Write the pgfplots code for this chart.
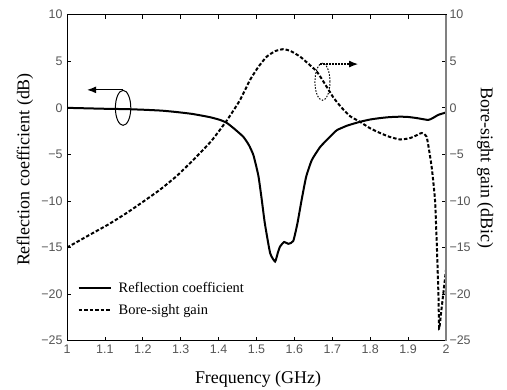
\documentclass[border=0pt]{standalone}
\usepackage{fontspec}
\setmainfont{Liberation Serif}
\setsansfont{Liberation Sans}
\usepackage{pgfplots}
\pgfplotsset{compat=1.18}
\usetikzlibrary{arrows.meta}
\definecolor{ticktext}{HTML}{555555}
\begin{document}
\begin{tikzpicture}
\begin{axis}[
  scale only axis, width=379bp, height=326bp,
  xmin=1, xmax=2, ymin=-25, ymax=10,
  xtick={1,1.1,...,2.01},
  xticklabels={1,1.1,1.2,1.3,1.4,1.5,1.6,1.7,1.8,1.9,2},
  ytick={-25,-20,...,10},
  yticklabels={−25,−20,−15,−10,−5,0,5,10},
  tick align=inside, xtick pos=both, ytick pos=left,
  major tick length=4bp,
  tick style={black, line width=0.7bp},
  axis line style={black, line width=1bp},
  ticklabel style={font=\fontsize{12.5}{12.5}\selectfont\sffamily, text=ticktext},
  yticklabel style={xshift=-1bp},
  xticklabel style={yshift=-1bp},
  xlabel={Frequency (GHz)},
  ylabel={Reflection coefficient (dB)},
  label style={font=\fontsize{18}{18}\selectfont},
  xlabel style={at={(axis description cs:0.504,-0.1195)}, anchor=center},
  ylabel style={at={(axis description cs:-0.111,0.525)}, anchor=center, rotate=0},
  legend image code/.code={\draw[#1] (0bp,0bp) -- (32bp,0bp); \path (37bp,0bp);},
  legend style={draw=none, fill=none, at={(axis description cs:0.025,0.19)}, anchor=north west,
    font=\fontsize{14.5}{14.5}\selectfont, row sep=7bp, inner sep=1bp},
  legend cell align=left,
]
\coordinate (bl) at (rel axis cs:0,0);
\coordinate (tr) at (rel axis cs:1,1);
\addplot[black, line width=2bp, smooth, tension=0.3] coordinates {
(1.00,0.0) (1.05,-0.05) (1.10,-0.1) (1.157,-0.14) (1.20,-0.2) (1.25,-0.3) (1.289,-0.45)
(1.33,-0.65) (1.377,-1.0) (1.404,-1.3) (1.421,-1.6) (1.44,-2.2) (1.465,-3.1) (1.48,-4.0)
(1.492,-5.1) (1.505,-7.3) (1.514,-9.9) (1.522,-12.4) (1.536,-15.6) (1.549,-16.5)
(1.556,-15.6) (1.562,-14.9) (1.573,-14.4) (1.584,-14.6) (1.597,-14.3) (1.608,-12.4)
(1.619,-9.9) (1.631,-7.4) (1.646,-5.6) (1.668,-4.2) (1.694,-3.1) (1.712,-2.4) (1.74,-1.9)
(1.773,-1.5) (1.80,-1.25) (1.826,-1.1) (1.85,-1.0) (1.879,-0.95) (1.90,-0.98) (1.923,-1.1)
(1.953,-1.3) (1.965,-1.1) (1.98,-0.75) (2.0,-0.5)
};
\addlegendentry{Reflection coefficient}
\addplot[black, line width=2bp, dash pattern=on 3.5bp off 2bp, smooth, tension=0.3] coordinates {
(1.00,-15.0) (1.035,-14.2) (1.07,-13.4) (1.11,-12.5) (1.157,-11.3) (1.20,-10.1) (1.245,-8.8)
(1.29,-7.3) (1.333,-5.6) (1.38,-3.6) (1.421,-1.4) (1.456,0.8) (1.483,3.0) (1.505,4.4)
(1.527,5.5) (1.55,6.1) (1.571,6.3) (1.59,6.1) (1.615,5.5) (1.635,4.8) (1.659,3.9) (1.68,2.6)
(1.703,1.1) (1.725,0.0) (1.747,-0.9) (1.773,-1.5) (1.80,-2.2) (1.826,-2.7) (1.85,-3.1)
(1.879,-3.4) (1.905,-3.25) (1.925,-2.9) (1.936,-2.7) (1.949,-3.1) (1.962,-6.3) (1.971,-9.9)
(1.976,-15) (1.980,-20) (1.982,-23.7) (1.987,-22) (1.993,-19.9) (2.0,-17.4)
};
\addlegendentry{Bore-sight gain}
% annotations
\draw[black, line width=1bp] (axis cs:1.148,0) ellipse [x radius=7.7bp, y radius=17.5bp];
\draw[black, line width=1.2bp, -{Latex[length=9bp,width=7bp]}] (axis cs:1.148,1.93) -- (axis cs:1.053,1.93);
\draw[black, line width=1bp, dash pattern=on 1.5bp off 1.5bp] (axis cs:1.674,2.8) ellipse [x radius=7.5bp, y radius=18.5bp];
\draw[black, line width=1.2bp, dash pattern=on 1.5bp off 1.5bp, -{Latex[length=9bp,width=7bp]}] (axis cs:1.668,4.7) -- (axis cs:1.768,4.7);
\end{axis}
\begin{axis}[
  scale only axis, width=379bp, height=326bp,
  xmin=1, xmax=2, ymin=-25, ymax=10,
  axis x line=none, axis y line*=right,
  ytick={-25,-20,...,10},
  yticklabels={−25,−20,−15,−10,−5,0,5,10},
  yticklabel pos=right,
  tick align=inside, major tick length=4bp,
  tick style={black, line width=0.7bp},
  axis line style={gray, line width=1.2bp, -},
  ticklabel style={font=\fontsize{12.5}{12.5}\selectfont\sffamily, text=ticktext},
  yticklabel style={anchor=west, xshift=0bp},
  ylabel={Bore-sight gain (dBic)},
  label style={font=\fontsize{18}{18}\selectfont},
  ylabel style={at={(axis description cs:1.103,0.53)}, anchor=center, rotate=180},
]
\end{axis}
\pgfresetboundingbox
\path[use as bounding box] ([xshift=-67bp,yshift=-49bp]bl) rectangle ([xshift=61bp,yshift=14.7bp]tr);
\end{tikzpicture}
\end{document}
